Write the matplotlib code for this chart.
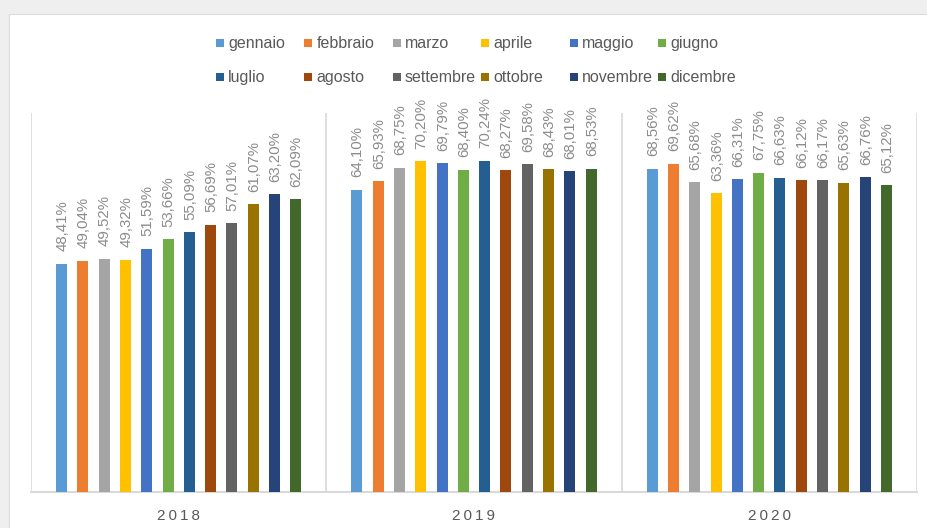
import matplotlib
matplotlib.use("Agg")
import matplotlib.pyplot as plt
from matplotlib.patches import Rectangle
import numpy as np

# ---------------------------------------------------------------------------
# Data
# ---------------------------------------------------------------------------
years = ["2018", "2019", "2020"]
months = ["gennaio", "febbraio", "marzo", "aprile", "maggio", "giugno",
          "luglio", "agosto", "settembre", "ottobre", "novembre", "dicembre"]
colors = ["#5B9BD5", "#ED7D31", "#A5A5A5", "#FFC000", "#4472C4", "#70AD47",
          "#255E91", "#9E480E", "#636363", "#997300", "#264478", "#43682B"]

v2018 = [48.41, 49.04, 49.52, 49.32, 51.59, 53.66, 55.09, 56.69, 57.01, 61.07, 63.20, 62.09]
v2019 = [64.10, 65.93, 68.75, 70.20, 69.79, 68.40, 70.24, 68.27, 69.58, 68.43, 68.01, 68.53]
v2020 = [68.56, 69.62, 65.68, 63.36, 66.31, 67.75, 66.63, 66.12, 66.17, 65.63, 66.76, 65.12]
values = np.array([v2018, v2019, v2020])  # year x month

# ---------------------------------------------------------------------------
# Style
# ---------------------------------------------------------------------------
plt.rcParams["font.family"] = ["Liberation Sans", "DejaVu Sans"]

BG = "#EFEFEF"
CARD = "#FFFFFF"
LINE = "#D9D9D9"
TEXT_DARK = "#595959"
TEXT_LABEL = "#8C8C8C"

W, H = 928, 528
fig = plt.figure(figsize=(W / 100, H / 100), dpi=100, facecolor=BG)

# white card with thin border, kept behind the axes
fig.patches.append(Rectangle((9 / W, -0.05), 1.1, 1 - 14 / H + 0.05,
                             transform=fig.transFigure, fc=CARD, ec="#DCDCDC",
                             lw=0.8, zorder=-5))

ax = fig.add_axes([31 / W, 36 / H, 886 / W, 379 / H])
ax.set_facecolor("none")
ax.set_zorder(2)

pitch = 0.0721
bar_w = 0.0372
x_groups = np.arange(len(years))

for m, (name, col) in enumerate(zip(months, colors)):
    xs = x_groups + (m - 5.5) * pitch
    ax.bar(xs, values[:, m], width=bar_w, color=col, zorder=3)
    for x, v in zip(xs, values[:, m]):
        ax.annotate(f"{v:.2f}%".replace(".", ","), xy=(x, v), xytext=(0.5, 9),
                    textcoords="offset points", rotation=90, ha="center",
                    va="bottom", fontsize=10.8, color=TEXT_LABEL)

ax.set_xlim(-0.5, 2.5)
ax.set_ylim(0, 80.4)

# category dividers
for xb in np.arange(-0.5, 3.0, 1.0):
    ax.axvline(xb, color=LINE, lw=1.2, zorder=1)

for side in ("top", "left", "right"):
    ax.spines[side].set_visible(False)
ax.spines["bottom"].set_color(LINE)
ax.spines["bottom"].set_linewidth(1.5)
ax.set_yticks([])
ax.set_xticks(x_groups)
ax.set_xticklabels(["\u2009".join(y) for y in years], fontsize=11,
                   color=TEXT_DARK)
ax.tick_params(axis="x", length=0, pad=12)

# legend: two rows of six, fixed column pitch
leg_x0, leg_dx = 216, 88.4
leg_rows = [43, 77]
for i, (name, col) in enumerate(zip(months, colors)):
    r, c = divmod(i, 6)
    x = leg_x0 + c * leg_dx
    y = leg_rows[r]
    fig.patches.append(Rectangle((x / W, (H - y - 4) / H), 8 / W, 8 / H,
                                 transform=fig.transFigure, fc=col, ec="none",
                                 zorder=2))
    fig.text((x + 12) / W, (H - y - 5) / H, name, fontsize=11.5, color=TEXT_DARK,
             va="baseline", ha="left")

fig.savefig("out.png", dpi=100, facecolor=BG)
